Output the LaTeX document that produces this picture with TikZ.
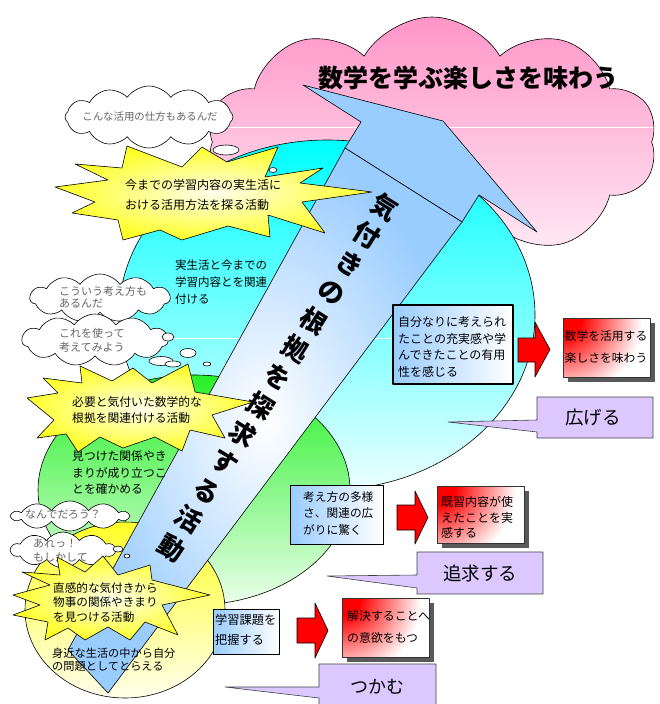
\documentclass[tikz,border=0pt]{standalone}
\usepackage{fontspec}
\newfontfamily\jp{Noto Sans CJK JP}
\usetikzlibrary{shapes.symbols}
\newcommand\jfs[2]{\fontsize{#1}{#2}\selectfont}
\definecolor{pinktop}{RGB}{255,150,200}
\definecolor{pinkbot}{RGB}{255,238,246}
\definecolor{cyantop}{RGB}{0,255,255}
\definecolor{cyanbot}{RGB}{235,255,255}
\definecolor{greentop}{RGB}{40,240,40}
\definecolor{greenbot}{RGB}{235,255,235}
\definecolor{yeltop}{RGB}{255,255,40}
\definecolor{yelbot}{RGB}{255,255,235}
\definecolor{arrowblue}{RGB}{153,204,255}
\definecolor{starcore}{RGB}{255,255,235}
\definecolor{staryel}{RGB}{255,255,40}
\definecolor{lav}{RGB}{220,200,255}
\definecolor{graytext}{RGB}{100,100,100}
\pgfdeclareradialshading{redfade}{\pgfpointorigin}{color(0bp)=(red); color(5bp)=(red); color(22bp)=(white); color(50bp)=(white)}
\tikzset{
  thought/.style={cloud, cloud puffs=11, cloud puff arc=110, cloud ignores aspect, draw=black, fill=white, line width=0.6pt, inner sep=0pt},
  bub/.style={draw=black, fill=white, line width=0.6pt},
  starshape/.style={draw=black, line width=0.6pt, shade, inner color=starcore, outer color=staryel},
  bluebox/.style={draw=black, line width=0.7pt, shade, left color=arrowblue, right color=white},
  redarrow/.style={draw=black, fill=red, line width=0.6pt},
  callout/.style={draw=black!75, fill=lav, line width=0.6pt},
  shadowbox/.style={fill=black!65},
  txt/.style={inner sep=0pt, anchor=west, align=left},
  gtxt/.style={inner sep=0pt, anchor=west, align=left, text=graytext},
}
\begin{document}
\begin{tikzpicture}[x=1pt, y=-1pt, line join=round, font=\jp]
\useasboundingbox (0,0) rectangle (660,704);
\clip (0,0) rectangle (660,704);
\fill[white] (0,0) rectangle (660,704);

% pink cloud
\node[cloud, cloud puffs=10, cloud puff arc=120, cloud ignores aspect,
  minimum width=450pt, minimum height=250pt, draw=black, line width=0.6pt,
  shade, top color=pinktop, bottom color=pinkbot,
  path picture={\draw[white, line width=0.9pt] ([yshift=15pt]path picture bounding box.west) -- ([yshift=15pt]path picture bounding box.east);}]
  (pink) at (432,142) {};

% ellipses
\path[draw=black, line width=0.6pt, shade, top color=cyantop, bottom color=cyanbot,
  path picture={\draw[white, line width=0.9pt] (90,338) -- (570,338);}]
  (327,315) ellipse (208pt and 175pt);
\path[draw=black, line width=0.6pt, shade, top color=greentop, bottom color=greenbot]
  (194,490) ellipse (156pt and 115pt);
\path[draw=black, line width=0.6pt, shade, top color=yeltop, bottom color=yelbot]
  (125,610) ellipse (100pt and 88pt);

% callouts
\path[callout] (537,397) -- (653,397) -- (653,438) -- (537,438) -- (537,432) -- (448,422) -- (537,420) -- cycle;
\path[callout] (417,552) -- (543,552) -- (543,594) -- (417,594) -- (417,588) -- (327,576) -- (417,575) -- cycle;
\path[callout] (319,664) -- (436,664) -- (436,712) -- (319,712) -- (319,698) -- (225,687) -- (319,687) -- cycle;
\node[inner sep=0pt, font=\jp\jfs{18.5}{20}] (c1) at (593,418) {広げる};
\node[inner sep=0pt, font=\jp\jfs{18.5}{20}] (c2) at (480,573) {追求する};
\node[inner sep=0pt, font=\jp\jfs{18}{20}] (c3) at (377,687) {つかむ};

% big arrow
\path[draw=black, line width=0.6pt, fill=arrowblue]
  (303,85) -- (443,121) -- (537,232) -- (479,195) -- (462,222) -- (345,148) -- (361,122) -- cycle;
\path[draw=black, line width=0.6pt, shade, inner color=white, outer color=arrowblue]
  (345,148) -- (462,222) -- (108,693) -- (68,650) -- cycle;
\foreach \c [count=\i from 0] in {気,付,き,の,根,拠,を,探,求,す,る,活,動}
  \node[rotate=-32, font=\jp\bfseries\jfs{26}{26}, inner sep=0pt] (v\i) at ({385-17.8*\i},{207+28.4*\i}) {\c};

% texts in regions
\node[txt, font=\jp\jfs{11.5}{17}] (t1) at (175,282) {実生活と今までの\\学習内容とを関連\\付ける};
\node[txt, font=\jp\jfs{11.8}{16.5}] (t2) at (72,473) {見つけた関係やき\\まりが成り立つこ\\とを確かめる};
\node[txt, font=\jp\jfs{11.2}{13}] (t3) at (52,659.5) {身近な生活の中から自分\\の問題としてとらえる};

% thought bubbles
\node[thought, cloud puffs=12, minimum width=168pt, minimum height=62pt] (ca) at (149,117) {};
\path[bub] (226,150) ellipse (13pt and 5pt);
\path[bub] (273,170) ellipse (4pt and 2.5pt);
\node[inner sep=0pt, text=graytext, font=\jp\jfs{10.4}{12}] (cat) at (150,117) {こんな活用の仕方もあるんだ};

\node[thought, minimum width=140pt, minimum height=48pt] (cb) at (100,298) {};
\node[gtxt, font=\jp\jfs{11}{12}] (cbt) at (59,297.5) {こういう考え方も\\あるんだ};

\node[thought, minimum width=146pt, minimum height=52pt] (cc) at (95,340) {};
\node[gtxt, font=\jp\jfs{11}{14}] (cct) at (59,340) {これを使って\\考えてみよう};
\path[bub] (168,337) ellipse (6pt and 4pt);
\path[bub] (188,353) ellipse (8pt and 4.5pt);
\path[bub] (161,361) ellipse (12pt and 4.5pt);
\path[bub] (173,364) ellipse (8pt and 3pt);
\path[bub] (207,364) ellipse (4pt and 2pt);

\node[thought, cloud puffs=10, minimum width=116pt, minimum height=30pt] (cd) at (70,516) {};
\node[gtxt, font=\jp\jfs{11}{12}] (cdt) at (25,514) {なんでだろう？};

\node[thought, cloud puffs=10, minimum width=104pt, minimum height=36pt] (ce) at (63,550) {};
\node[gtxt, font=\jp\jfs{11}{14}] (cet) at (33,550) {あれっ！\\もしかして};
\path[bub] (118,549) ellipse (5pt and 3pt);
\path[bub] (127,556) ellipse (3pt and 2pt);

% stars
\path[starshape] (55,187) -- (108,180) -- (75,164) -- (122,168) -- (127,146) -- (182,167) -- (202,147) -- (227,162) -- (278,147) -- (265,177) -- (323,168) -- (300,183) -- (372,192) -- (302,202) -- (325,233) -- (268,215) -- (270,237) -- (228,226) -- (182,240) -- (160,230) -- (123,240) -- (118,220) -- (72,213) -- (95,202) -- cycle;
\node[txt, font=\jp\jfs{12}{20}] (s1) at (125,195) {今までの学習内容の実生活に\\おける活用方法を探る活動};

\path[starshape] (27,398) -- (58,393) -- (43,378) -- (82,383) -- (80,366) -- (112,381) -- (133,368) -- (152,383) -- (188,364) -- (195,392) -- (253,402) -- (212,415) -- (225,438) -- (190,430) -- (182,451) -- (155,437) -- (123,448) -- (100,437) -- (78,452) -- (66,434) -- (37,438) -- (54,420) -- cycle;
\node[txt, font=\jp\jfs{11.8}{16}] (s2) at (72,410) {必要と気付いた数学的な\\根拠を関連付ける活動};

\path[starshape] (13,595) -- (50,585) -- (22,572) -- (60,575) -- (57,557) -- (85,572) -- (103,556) -- (118,575) -- (150,565) -- (152,580) -- (210,595) -- (162,605) -- (178,635) -- (145,622) -- (130,640) -- (108,627) -- (85,640) -- (68,628) -- (45,640) -- (48,622) -- (13,615) -- (40,605) -- cycle;
\node[txt, font=\jp\jfs{11.6}{14.5}] (s3) at (53,602.5) {直感的な気付きから\\物事の関係やきまり\\を見つける活動};

% blue boxes
\path[bluebox, line width=1.8pt] (393,305) rectangle (513,384);
\node[txt, font=\jp\jfs{12}{16.7}] (b1) at (398,347) {自分なりに考えられ\\たことの充実感や学\\んできたことの有用\\性を感じる};
\path[bluebox] (290,485) rectangle (383,544);
\node[txt, font=\jp\jfs{11.7}{16.5}] (b2) at (303,513.5) {考え方の多様\\さ、関連の広\\がりに驚く};
\path[bluebox] (213,609) rectangle (279,654);
\node[txt, font=\jp\jfs{12.2}{20}] (b3) at (215,630) {学習課題を\\把握する};

% red arrows
\path[redarrow] (518,338) -- (535,338) -- (535,322) -- (550,349.5) -- (535,377) -- (535,362) -- (518,362) -- cycle;
\path[redarrow] (397,505) -- (415,505) -- (415,491) -- (428,517.5) -- (415,544) -- (415,530) -- (397,530) -- cycle;
\path[redarrow] (297,618) -- (315,618) -- (315,603) -- (328,630.5) -- (315,658) -- (315,643) -- (297,643) -- cycle;

% red boxes
\path[shadowbox] (568,323) rectangle (655,382);
\begin{scope}
  \clip (563,318) rectangle (650,377);
  \fill[white] (563,318) rectangle (650,377);
  \shade[shading=redfade] (563,318) circle (90pt);
\end{scope}
\draw[black!80, line width=0.6pt] (563,318) rectangle (650,377);
\node[inner sep=0pt, align=center, font=\jp\jfs{11.8}{22}] (r1) at (606,347) {数学を活用する\\楽しさを味わう};

\path[shadowbox] (442,491) rectangle (529,548);
\begin{scope}
  \clip (437,486) rectangle (524,543);
  \fill[white] (437,486) rectangle (524,543);
  \shade[shading=redfade] (437,486) circle (90pt);
\end{scope}
\draw[black!80, line width=0.6pt] (437,486) rectangle (524,543);
\node[txt, font=\jp\jfs{12}{15.5}] (r2) at (441,517.5) {既習内容が使\\えたことを実\\感する};

\path[shadowbox] (347,603) rectangle (434,662);
\begin{scope}
  \clip (342,598) rectangle (429,657);
  \fill[white] (342,598) rectangle (429,657);
  \shade[shading=redfade] (342,598) circle (90pt);
\end{scope}
\draw[black!80, line width=0.6pt] (342,598) rectangle (429,657);
\node[txt, font=\jp\jfs{11.9}{22}] (r3) at (347,627) {解決することへ\\の意欲をもつ};

% title
\node[inner sep=0pt, font=\jp\bfseries\jfs{25}{25}] (title) at (468,78) {数学を学ぶ楽しさを味わう};
\end{tikzpicture}
\end{document}
